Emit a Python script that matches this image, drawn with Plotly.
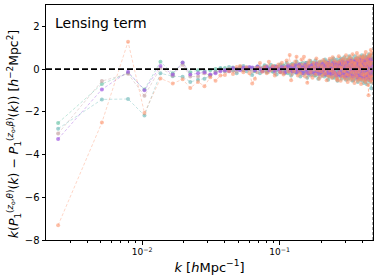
import numpy as np
import plotly.graph_objects as go

# k bins [h/Mpc]: first bins read individually, then linear spacing of ~0.0029
k_first = [0.00245, 0.0051, 0.0079, 0.0104, 0.0136, 0.0167, 0.0197, 0.0224, 0.0255]
k_rest = list(np.round(0.0255 + 0.0029 * np.arange(1, 156), 5))
k = k_first + k_rest  # 164 bins

green = [-2.52, -0.70, -0.18, -0.95, 0.34, -0.2, 0.3, -0.15, -0.05, -0.1, -0.05, 0.0, 0.02, 0.05, -0.05, 0.08, 0.0, 0.1, -0.05, 0.05, 0.0,
         0.05, -0.08, 0.1, 0.02, -0.05, 0.12, -0.1, 0.08, 0.0, -0.12,
         0.15, -0.05, 0.1, -0.15, 0.05, 0.18, -0.08, 0.12, -0.2, 0.05,
         0.2, -0.1, 0.0, 0.22, -0.18, 0.1, -0.05, 0.25, -0.12, 0.08,
         -0.2, 0.15, 0.28, -0.1, 0.05, -0.25, 0.18, 0.0, 0.3, -0.15,
         0.1, -0.3, 0.2, 0.05, -0.18, 0.32, -0.1, 0.15, -0.25, 0.08,
         0.28, -0.2, 0.0, 0.35, -0.3, 0.12, -0.05, 0.25, -0.35, 0.18,
         0.05, -0.25, 0.38, -0.1, 0.2, -0.4, 0.15, 0.3, -0.2, 0.0,
         -0.35, 0.25, 0.1, -0.15, 0.4, -0.3, 0.05, 0.35, -0.25, 0.15,
         0.3, -0.4, 0.0, 0.2, -0.2, 0.45, -0.1, 0.25, -0.45, 0.1,
         0.35, -0.25, 0.15, -0.35, 0.4, 0.05, -0.5, 0.3, -0.15, 0.2,
         -0.3, 0.45, 0.1, -0.4, 0.25, -0.1, 0.5, -0.35, 0.15, 0.3,
         -0.45, 0.2, 0.4, -0.25, 0.05, -0.5, 0.35, 0.15, -0.3, 0.5,
         -0.2, 0.3, -0.55, 0.4, 0.1, -0.35, 0.55, -0.15, 0.25, -0.45,
         0.35, 0.05, -0.5, 0.45, -0.25, 0.2, 0.6, -0.4, 0.1, -0.3,
         0.5, -0.35, 0.2]

teal = [-2.79, -1.42, -1.40, -2.17, -0.2, -0.33, -0.36, -0.6, -0.5, -0.45, -0.3, -0.1, 0.05, -0.1, 0.1, -0.05, -0.2, 0.0, 0.15, -0.1, 0.05,
        -0.28, -0.1, 0.12, -0.2, 0.05, 0.18, -0.15, 0.0, 0.2, -0.1,
        0.1, -0.25, 0.05, 0.22, -0.08, 0.15, -0.2, 0.3, -0.05, 0.12,
        -0.3, 0.25, 0.05, -0.15, 0.35, -0.1, 0.2, -0.35, 0.1, 0.28,
        -0.2, 0.05, 0.3, -0.4, 0.15, -0.05, 0.38, -0.25, 0.1, 0.2,
        -0.3, 0.4, -0.1, 0.05, -0.45, 0.25, 0.15, -0.2, 0.35, -0.05,
        0.2, -0.35, 0.45, 0.0, -0.25, 0.3, -0.5, 0.15, 0.05, 0.4,
        -0.2, 0.25, -0.4, 0.5, 0.1, -0.3, 0.2, -0.1, 0.45, -0.55,
        0.15, 0.35, -0.25, 0.05, 0.5, -0.45, 0.2, -0.15, 0.4, -0.3,
        0.55, -0.1, 0.25, -0.5, 0.3, 0.05, -0.35, 0.45, -0.2, 0.6,
        -0.4, 0.15, 0.35, -0.25, 0.5, -0.55, 0.1, 0.4, -0.3, 0.2,
        0.6, -0.45, 0.05, 0.35, -0.2, 0.5, -0.6, 0.25, 0.4, -0.35,
        0.15, 0.55, -0.5, 0.3, -0.1, 0.65, -0.4, 0.2, 0.45, -0.65,
        0.3, -0.25, 0.6, -0.45, 0.1, 0.5, -0.7, 0.35, -0.15, 0.55,
        -0.5, 0.25, 0.7, -0.35, 0.4, -0.6, 0.15, 0.5, -0.9, 0.6,
        -0.4, 0.45, -0.2]

pink = [-3.02, -0.56, -0.22, -1.25, 0.05, -0.3, 0.2, -0.35, -0.35, -0.2, -0.3, -0.15, -0.05, -0.1, 0.0, -0.08, -0.12, 0.05, -0.05, 0.1, -0.02,
        -0.1, 0.05, -0.15, 0.1, 0.0, -0.08, 0.15, -0.12, 0.05, 0.1,
        -0.18, 0.08, 0.0, 0.15, -0.1, -0.2, 0.12, 0.05, 0.2, -0.15,
        0.1, -0.22, 0.18, 0.0, -0.1, 0.25, -0.15, 0.05, 0.2, -0.28,
        0.12, 0.0, -0.2, 0.3, -0.05, 0.15, -0.3, 0.2, -0.1, 0.05,
        0.25, -0.15, -0.05, 0.3, -0.25, 0.1, 0.2, -0.35, 0.05, 0.3,
        -0.15, 0.1, 0.35, -0.25, 0.0, 0.2, -0.3, 0.4, -0.1, -0.2,
        0.3, 0.1, -0.35, 0.2, -0.1, 0.4, -0.25, 0.05, 0.3, -0.4,
        0.15, -0.2, 0.35, 0.0, -0.3, 0.25, 0.45, -0.15, -0.35, 0.1,
        0.2, -0.3, 0.4, -0.05, 0.15, -0.45, 0.3, 0.1, -0.2, 0.35,
        -0.4, 0.2, 0.0, 0.45, -0.3, 0.15, 0.3, -0.5, 0.25, -0.1,
        0.4, -0.2, 0.15, -0.45, 0.5, 0.0, -0.3, 0.35, -0.15, 0.2,
        0.45, -0.35, 0.1, 0.3, -0.5, 0.25, -0.05, 0.55, -0.3, 0.15,
        -0.4, 0.35, 0.05, -0.3, 0.5, -0.55, 0.2, 0.4, -0.25, 0.1,
        0.55, -0.4, 0.25, -0.15, 0.45, -0.5, 0.3, -0.1, 0.6, -0.35,
        0.2, -0.45, 0.4]

purple = [-3.27, -0.95, -0.13, -0.99, 0.15, -0.25, 0.31, -0.25, -0.2, -0.15, -0.25, -0.2, -0.1, -0.05, -0.1, 0.05, 0.0, -0.05, 0.08, 0.0, 0.1,
          0.08, -0.05, 0.12, 0.0, -0.1, 0.05, 0.1, -0.05, 0.02, 0.1,
          -0.08, 0.12, 0.0, -0.12, 0.1, 0.05, -0.15, 0.08, 0.15, -0.05,
          0.12, -0.1, 0.05, 0.18, -0.15, 0.0, 0.2, -0.08, 0.1, -0.18,
          0.05, 0.2, -0.12, 0.1, -0.2, 0.15, 0.0, -0.15, 0.22, 0.05,
          -0.2, 0.1, 0.25, -0.1, 0.05, -0.22, 0.18, 0.0, -0.15, 0.25,
          -0.05, 0.15, -0.25, 0.2, 0.05, -0.18, 0.28, -0.1, 0.1, -0.25,
          0.2, 0.0, -0.2, 0.3, -0.15, 0.1, 0.25, -0.3, 0.05, 0.2,
          -0.25, 0.15, 0.3, -0.1, -0.3, 0.2, 0.05, 0.35, -0.2, 0.0,
          0.25, -0.35, 0.1, 0.3, -0.15, 0.05, -0.3, 0.35, 0.15, -0.25,
          0.1, 0.4, -0.2, -0.05, 0.3, -0.35, 0.2, 0.0, 0.35, -0.3,
          0.15, -0.1, 0.4, -0.25, 0.05, 0.3, -0.4, 0.2, -0.05, 0.35,
          -0.3, 0.1, 0.45, -0.2, 0.25, -0.4, 0.0, 0.35, -0.15, 0.2,
          0.4, -0.35, 0.1, 0.3, -0.45, 0.2, -0.05, 0.45, -0.3, 0.15,
          -0.2, 0.5, -0.4, 0.1, 0.35, -0.25, 0.45, -0.5, 0.2, 0.05,
          -0.3, 0.4, -0.15]

orange = [-7.31, -2.50, 1.28, -2.05, -0.44, -0.67, -0.48, -0.88, -0.6, -0.8, -0.38, -0.55, -0.3, -0.28, -0.1, -0.23, 0.1, 0.14, -0.15, 0.05, -0.2,
          -0.67, -0.45, 0.05, 0.28, -0.12, 0.1, -0.2, 0.34, -0.05, 0.15,
          -0.3, 0.08, 0.22, -0.15, 0.3, -0.25, 0.05, 0.4, -0.1, 0.66,
          -0.52, 0.2, -0.1, 0.35, 0.58, -0.3, 0.12, -0.2, 0.45, 0.0,
          0.58, -0.35, 0.15, -0.64, 0.25, 0.4, -0.15, 0.05, -0.4, 0.3,
          0.1, -0.25, 0.5, -0.05, 0.2, -0.45, 0.35, -0.1, 0.15, -0.3,
          0.42, 0.0, -0.2, 0.3, -0.52, 0.1, 0.25, -0.35, 0.48, -0.05,
          0.2, -0.4, 0.55, -0.15, 0.05, 0.35, -0.3, 0.15, -0.45, -0.52,
          0.3, 0.6, -0.2, 0.1, -0.55, 0.4, 0.05, -0.35, 0.25, 0.5,
          -0.1, -0.45, 0.3, 0.65, -0.25, 0.1, -0.6, 0.45, 0.0, -0.3,
          0.55, 0.2, -0.5, 0.35, -0.15, 0.7, -0.4, 0.1, 0.3, -0.65,
          0.25, -0.2, 0.5, -0.35, 0.75, 0.05, -0.55, 0.4, -0.1, 0.6,
          -0.45, 0.2, 0.35, -0.7, 0.15, 0.55, -0.25, 0.45, -0.5, 0.0,
          0.65, -0.3, 0.25, -0.6, 0.8, 0.1, -0.45, 0.5, -0.2, 0.35,
          -0.75, -1.22, 0.6, -0.35, 0.2, 0.7, -0.55, 0.89, -0.4, 0.3,
          -0.6, 0.75, -0.3]

series = [
    ("green", green, "rgba(102,194,165,0.65)", "rgba(102,194,165,0.45)"),
    ("teal", teal, "rgba(110,185,185,0.65)", "rgba(110,185,185,0.45)"),
    ("pink", pink, "rgba(195,160,160,0.65)", "rgba(195,160,160,0.45)"),
    ("purple", purple, "rgba(160,90,225,0.7)", "rgba(160,90,225,0.45)"),
    ("orange", orange, "rgba(252,141,98,0.55)", "rgba(252,141,98,0.4)"),
]

k_min_axis, k_max_axis = 0.002, 0.4775

fig = go.Figure()
for name, vals, mcol, lcol in series:
    fig.add_trace(go.Scatter(
        x=k, y=vals, mode="lines+markers", name=name,
        line=dict(color=lcol, width=0.9, dash="3px,2px"),
        marker=dict(color=mcol, size=4),
        showlegend=False,
    ))

fig.add_shape(type="line", xref="paper", yref="y", x0=0, x1=1, y0=0, y1=0,
              line=dict(color="black", width=1.6, dash="6px,3px"))
fig.add_shape(type="line", xref="x", yref="paper", x0=k_max_axis, x1=k_max_axis, y0=0, y1=1,
              line=dict(color="#888888", width=1.5, dash="3px,2px"))

minor_vals = [0.003, 0.004, 0.005, 0.006, 0.007, 0.008, 0.009,
              0.02, 0.03, 0.04, 0.05, 0.06, 0.07, 0.08, 0.09,
              0.2, 0.3, 0.4]

fig.update_layout(
    width=379, height=280,
    margin=dict(l=46, r=6, t=5, b=40),
    paper_bgcolor="white", plot_bgcolor="white",
    font=dict(family="DejaVu Sans", color="black", size=10),
    xaxis=dict(
        type="log", range=[np.log10(k_min_axis), np.log10(k_max_axis)],
        tickvals=[0.01, 0.1], ticktext=["10<sup>−2</sup>", "10<sup>−1</sup>"],
        ticks="outside", ticklen=3.5, tickwidth=0.8, tickcolor="black",
        minor=dict(tickvals=minor_vals, ticks="outside", ticklen=2, tickwidth=0.6, tickcolor="black"),
        showline=True, linecolor="black", linewidth=1, mirror=True,
        showgrid=False, zeroline=False,
        tickfont=dict(size=9),
        title=dict(text="<i>k</i> [<i>h</i>Mpc<sup>−1</sup>]", font=dict(size=13), standoff=6),
    ),
    yaxis=dict(
        range=[-8, 3],
        tickvals=[-8, -6, -4, -2, 0, 2], ticktext=["−8", "−6", "−4", "−2", "0", "2"],
        ticks="outside", ticklen=3.5, tickwidth=0.8, tickcolor="black",
        showline=True, linecolor="black", linewidth=1, mirror=True,
        showgrid=False, zeroline=False,
    ),
    annotations=[
        dict(text="Lensing term", xref="paper", yref="paper", x=0.022, y=0.965,
             xanchor="left", yanchor="top", showarrow=False, font=dict(size=14)),
        dict(text="<i>k</i>(<i>P</i><sub>1</sub><sup>(<i>z</i><sub>o</sub>,<i>θ</i>)</sup>(<i>k</i>) − "
                  "<i>P</i><sub>1</sub><sup>(<i>z</i><sub>o</sub>,<i>β</i>)</sup>(<i>k</i>)) "
                  "[<i>h</i><sup>−2</sup>Mpc<sup>2</sup>]",
             xref="paper", yref="paper", x=-0.098, y=0.45, textangle=-90,
             xanchor="center", yanchor="middle", showarrow=False, font=dict(size=12.5)),
    ],
)

fig.write_html("out.html", config={"displayModeBar": False},
               post_script="document.body.style.margin='0';document.body.style.padding='0';")
